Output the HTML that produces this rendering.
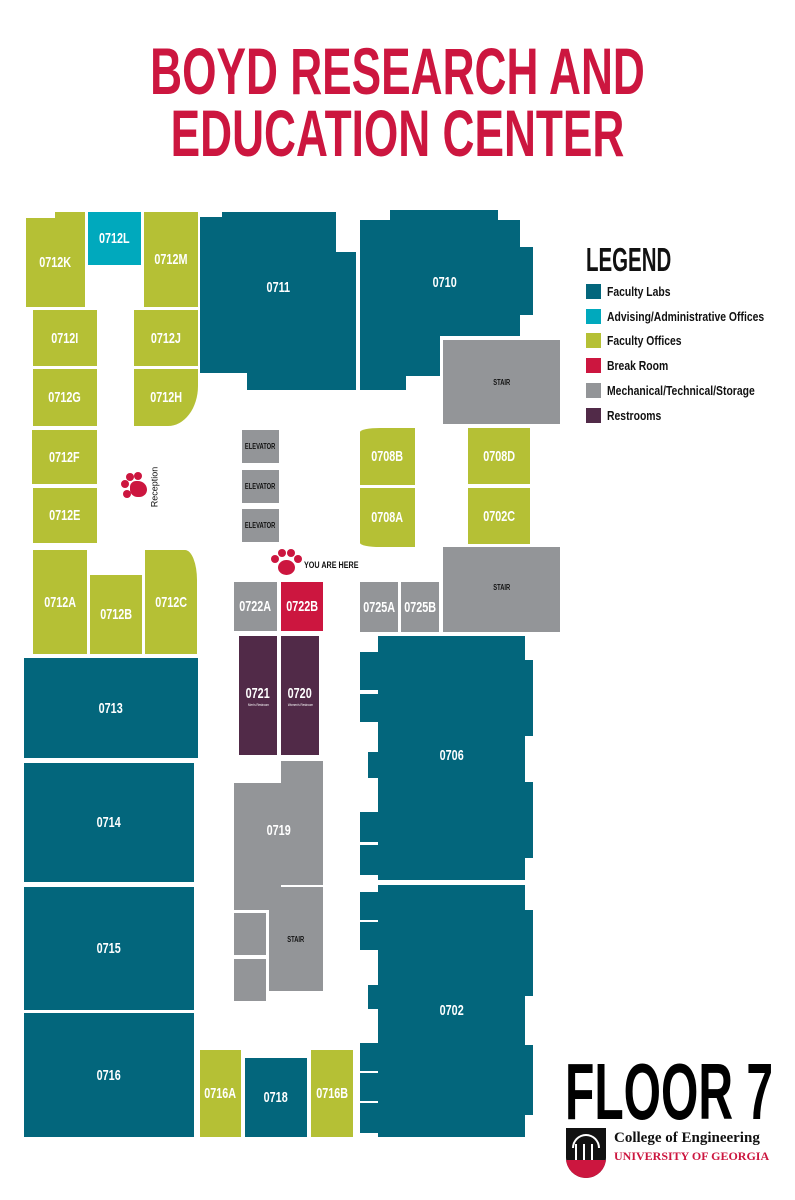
<!DOCTYPE html>
<html><head><meta charset="utf-8"><style>
body{margin:0;width:795px;height:1200px;background:#fff;position:relative;overflow:hidden;font-family:"Liberation Sans",sans-serif}
.r{position:absolute;display:flex;align-items:center;justify-content:center;color:#fff;font-weight:bold;font-size:15px;white-space:nowrap}
.r b,.r i{display:inline-block;transform:scaleX(.72);font-style:normal}
.t{background:#03667c}.c{background:#00a9bd}.o{background:#b5c035}.d{background:#cc163f}.g{background:#939598}.p{background:#512a48}
.s{color:#111;font-size:8px}
.title{position:absolute;left:0;width:795px;text-align:center;color:#cc163f;font-weight:bold;font-size:66px;line-height:66px;white-space:nowrap;transform:scaleX(.67)}
.lg{position:absolute;left:586px;width:15px;height:15px}
.lt{position:absolute;left:607px;font-size:13px;color:#111;font-weight:bold;line-height:15px;white-space:nowrap;transform:scaleX(.8);transform-origin:left}
.paw{position:absolute;width:30px;height:28px}
.paw span{position:absolute;background:#cc163f;border-radius:50%}
</style></head><body>
<div class="title" style="top:38px">BOYD RESEARCH AND</div>
<div class="title" style="top:100px">EDUCATION CENTER</div>

<div class="r o" style="left:26px;top:218px;width:59px;height:89px"><b>0712K</b></div>
<div class="o" style="position:absolute;left:55px;top:212px;width:30px;height:8px"></div>
<div class="r c" style="left:88px;top:212px;width:53px;height:53px"><b>0712L</b></div>
<div class="r o" style="left:144px;top:212px;width:54px;height:95px"><b>0712M</b></div>

<div class="t" style="position:absolute;left:200px;top:217px;width:136px;height:156px"></div>
<div class="t" style="position:absolute;left:222px;top:212px;width:114px;height:10px"></div>
<div class="t" style="position:absolute;left:336px;top:252px;width:20px;height:138px"></div>
<div class="t" style="position:absolute;left:247px;top:370px;width:109px;height:20px"></div>
<div class="r" style="left:200px;top:250px;width:156px;height:75px"><b>0711</b></div>

<div class="t" style="position:absolute;left:360px;top:220px;width:160px;height:116px"></div>
<div class="t" style="position:absolute;left:390px;top:210px;width:108px;height:12px"></div>
<div class="t" style="position:absolute;left:510px;top:247px;width:23px;height:68px"></div>
<div class="t" style="position:absolute;left:360px;top:330px;width:80px;height:46px"></div>
<div class="t" style="position:absolute;left:360px;top:370px;width:46px;height:20px"></div>
<div class="r" style="left:360px;top:250px;width:170px;height:65px"><b>0710</b></div>
<div class="r g s" style="left:443px;top:340px;width:117px;height:84px"><b>STAIR</b></div>

<div class="r o" style="left:33px;top:310px;width:64px;height:56px"><b>0712I</b></div>
<div class="r o" style="left:134px;top:310px;width:64px;height:56px"><b>0712J</b></div>
<div class="r o" style="left:33px;top:369px;width:64px;height:57px"><b>0712G</b></div>
<div class="r o" style="left:134px;top:369px;width:64px;height:57px;border-bottom-right-radius:30px 40px"><b>0712H</b></div>
<div class="r o" style="left:32px;top:430px;width:65px;height:54px"><b>0712F</b></div>
<div class="r o" style="left:33px;top:488px;width:64px;height:55px"><b>0712E</b></div>

<div class="r g s" style="left:242px;top:430px;width:37px;height:33px"><b>ELEVATOR</b></div>
<div class="r g s" style="left:242px;top:470px;width:37px;height:33px"><b>ELEVATOR</b></div>
<div class="r g s" style="left:242px;top:509px;width:37px;height:33px"><b>ELEVATOR</b></div>

<div class="r o" style="left:360px;top:428px;width:55px;height:57px;border-top-left-radius:20px 4px"><b>0708B</b></div>
<div class="r o" style="left:360px;top:488px;width:55px;height:59px;border-bottom-left-radius:20px 4px"><b>0708A</b></div>
<div class="r o" style="left:468px;top:428px;width:62px;height:56px"><b>0708D</b></div>
<div class="r o" style="left:468px;top:488px;width:62px;height:56px"><b>0702C</b></div>
<div class="r g s" style="left:443px;top:547px;width:117px;height:85px;align-items:flex-start;padding-top:36px;box-sizing:border-box"><b>STAIR</b></div>

<div class="paw" style="left:121px;top:472px"><span style="left:0;top:8px;width:8px;height:8px"></span><span style="left:5px;top:1px;width:8px;height:8px"></span><span style="left:13px;top:0;width:8px;height:8px"></span><span style="left:2px;top:18px;width:8px;height:8px"></span><span style="left:9px;top:9px;width:17px;height:16px;border-radius:40% 60% 50% 50%"></span></div>
<div style="position:absolute;left:134px;top:482px;font-size:9px;color:#111;transform:rotate(-90deg)">Reception</div>
<div class="paw" style="left:271px;top:549px"><span style="left:0;top:6px;width:8px;height:8px"></span><span style="left:7px;top:0;width:8px;height:8px"></span><span style="left:16px;top:0;width:8px;height:8px"></span><span style="left:23px;top:6px;width:8px;height:8px"></span><span style="left:7px;top:11px;width:17px;height:15px"></span></div>
<div style="position:absolute;left:304px;top:560px;font-size:9px;color:#111;font-weight:bold;transform:scaleX(.8);transform-origin:left;white-space:nowrap">YOU ARE HERE</div>

<div class="r o" style="left:33px;top:550px;width:54px;height:104px"><b>0712A</b></div>
<div class="r o" style="left:90px;top:575px;width:52px;height:79px"><b>0712B</b></div>
<div class="r o" style="left:145px;top:550px;width:52px;height:104px;border-top-right-radius:12px 30px"><b>0712C</b></div>

<div class="r g" style="left:234px;top:582px;width:43px;height:49px"><b>0722A</b></div>
<div class="r d" style="left:281px;top:582px;width:42px;height:49px"><b>0722B</b></div>
<div class="r g" style="left:360px;top:582px;width:38px;height:50px"><b>0725A</b></div>
<div class="r g" style="left:401px;top:582px;width:38px;height:50px"><b>0725B</b></div>

<div class="r p" style="left:239px;top:636px;width:38px;height:119px;flex-direction:column"><b>0721</b><i style="font-size:4px;font-weight:normal">Men's Restroom</i></div>
<div class="r p" style="left:281px;top:636px;width:38px;height:119px;flex-direction:column"><b>0720</b><i style="font-size:4px;font-weight:normal">Women's Restroom</i></div>

<div class="g" style="position:absolute;left:281px;top:761px;width:42px;height:124px"></div>
<div class="g" style="position:absolute;left:234px;top:783px;width:47px;height:127px"></div>
<div class="r" style="left:234px;top:810px;width:89px;height:40px"><b>0719</b></div>
<div class="g" style="position:absolute;left:234px;top:913px;width:32px;height:42px"></div>
<div class="g" style="position:absolute;left:234px;top:959px;width:32px;height:42px"></div>
<div class="r g s" style="left:269px;top:887px;width:54px;height:104px"><b>STAIR</b></div>

<div class="t" style="position:absolute;left:378px;top:636px;width:147px;height:244px"></div>
<div class="t" style="position:absolute;left:525px;top:660px;width:8px;height:76px"></div>
<div class="t" style="position:absolute;left:525px;top:782px;width:8px;height:76px"></div>
<div class="t" style="position:absolute;left:360px;top:652px;width:18px;height:38px"></div>
<div class="t" style="position:absolute;left:360px;top:694px;width:18px;height:28px"></div>
<div class="t" style="position:absolute;left:368px;top:752px;width:10px;height:26px"></div>
<div class="t" style="position:absolute;left:360px;top:812px;width:18px;height:30px"></div>
<div class="t" style="position:absolute;left:360px;top:845px;width:18px;height:30px"></div>
<div class="r" style="left:378px;top:735px;width:147px;height:40px"><b>0706</b></div>

<div class="t" style="position:absolute;left:378px;top:885px;width:147px;height:252px"></div>
<div class="t" style="position:absolute;left:525px;top:910px;width:8px;height:86px"></div>
<div class="t" style="position:absolute;left:525px;top:1045px;width:8px;height:70px"></div>
<div class="t" style="position:absolute;left:360px;top:892px;width:18px;height:28px"></div>
<div class="t" style="position:absolute;left:360px;top:922px;width:18px;height:28px"></div>
<div class="t" style="position:absolute;left:368px;top:985px;width:10px;height:24px"></div>
<div class="t" style="position:absolute;left:360px;top:1043px;width:18px;height:28px"></div>
<div class="t" style="position:absolute;left:360px;top:1073px;width:18px;height:28px"></div>
<div class="t" style="position:absolute;left:360px;top:1103px;width:18px;height:30px"></div>
<div class="r" style="left:378px;top:990px;width:147px;height:40px"><b>0702</b></div>

<div class="r t" style="left:24px;top:658px;width:174px;height:100px"><b>0713</b></div>
<div class="r t" style="left:24px;top:763px;width:170px;height:119px"><b>0714</b></div>
<div class="r t" style="left:24px;top:887px;width:170px;height:123px"><b>0715</b></div>
<div class="r t" style="left:24px;top:1013px;width:170px;height:124px"><b>0716</b></div>
<div class="r o" style="left:200px;top:1050px;width:41px;height:87px"><b>0716A</b></div>
<div class="r t" style="left:245px;top:1058px;width:62px;height:79px"><b>0718</b></div>
<div class="r o" style="left:311px;top:1050px;width:42px;height:87px"><b>0716B</b></div>

<div style="position:absolute;left:586px;top:242px;font-size:33px;font-weight:bold;color:#111;line-height:36px;transform:scaleX(.62);transform-origin:left">LEGEND</div>
<div class="lg t" style="top:284px"></div><div class="lt" style="top:284px">Faculty Labs</div>
<div class="lg c" style="top:309px"></div><div class="lt" style="top:309px">Advising/Administrative Offices</div>
<div class="lg o" style="top:333px"></div><div class="lt" style="top:333px">Faculty Offices</div>
<div class="lg d" style="top:358px"></div><div class="lt" style="top:358px">Break Room</div>
<div class="lg g" style="top:383px"></div><div class="lt" style="top:383px">Mechanical/Technical/Storage</div>
<div class="lg p" style="top:408px"></div><div class="lt" style="top:408px">Restrooms</div>

<div style="position:absolute;left:565px;top:1052px;font-size:80px;font-weight:bold;color:#000;line-height:80px;white-space:nowrap;transform:scaleX(.6);transform-origin:left">FLOOR 7</div>
<div style="position:absolute;left:566px;top:1128px;width:40px;height:50px;background:#111;border-radius:0 0 20px 20px;overflow:hidden">
<div style="position:absolute;left:0;top:32px;width:40px;height:18px;background:#cc163f"></div>
<div style="position:absolute;left:6px;top:6px;width:24px;height:12px;border:2px solid #fff;border-bottom:none;border-radius:14px 14px 0 0"></div>
<div style="position:absolute;left:9px;top:16px;width:2px;height:16px;background:#fff"></div>
<div style="position:absolute;left:17px;top:16px;width:2px;height:16px;background:#fff"></div>
<div style="position:absolute;left:25px;top:16px;width:2px;height:16px;background:#fff"></div>
</div>
<div style="position:absolute;left:614px;top:1130px;font-family:'Liberation Serif',serif;font-size:15px;color:#111;font-weight:bold;white-space:nowrap">College of Engineering</div>
<div style="position:absolute;left:614px;top:1149px;font-family:'Liberation Serif',serif;font-size:12px;color:#cc163f;font-weight:bold;white-space:nowrap">UNIVERSITY OF GEORGIA</div>
</body></html>
